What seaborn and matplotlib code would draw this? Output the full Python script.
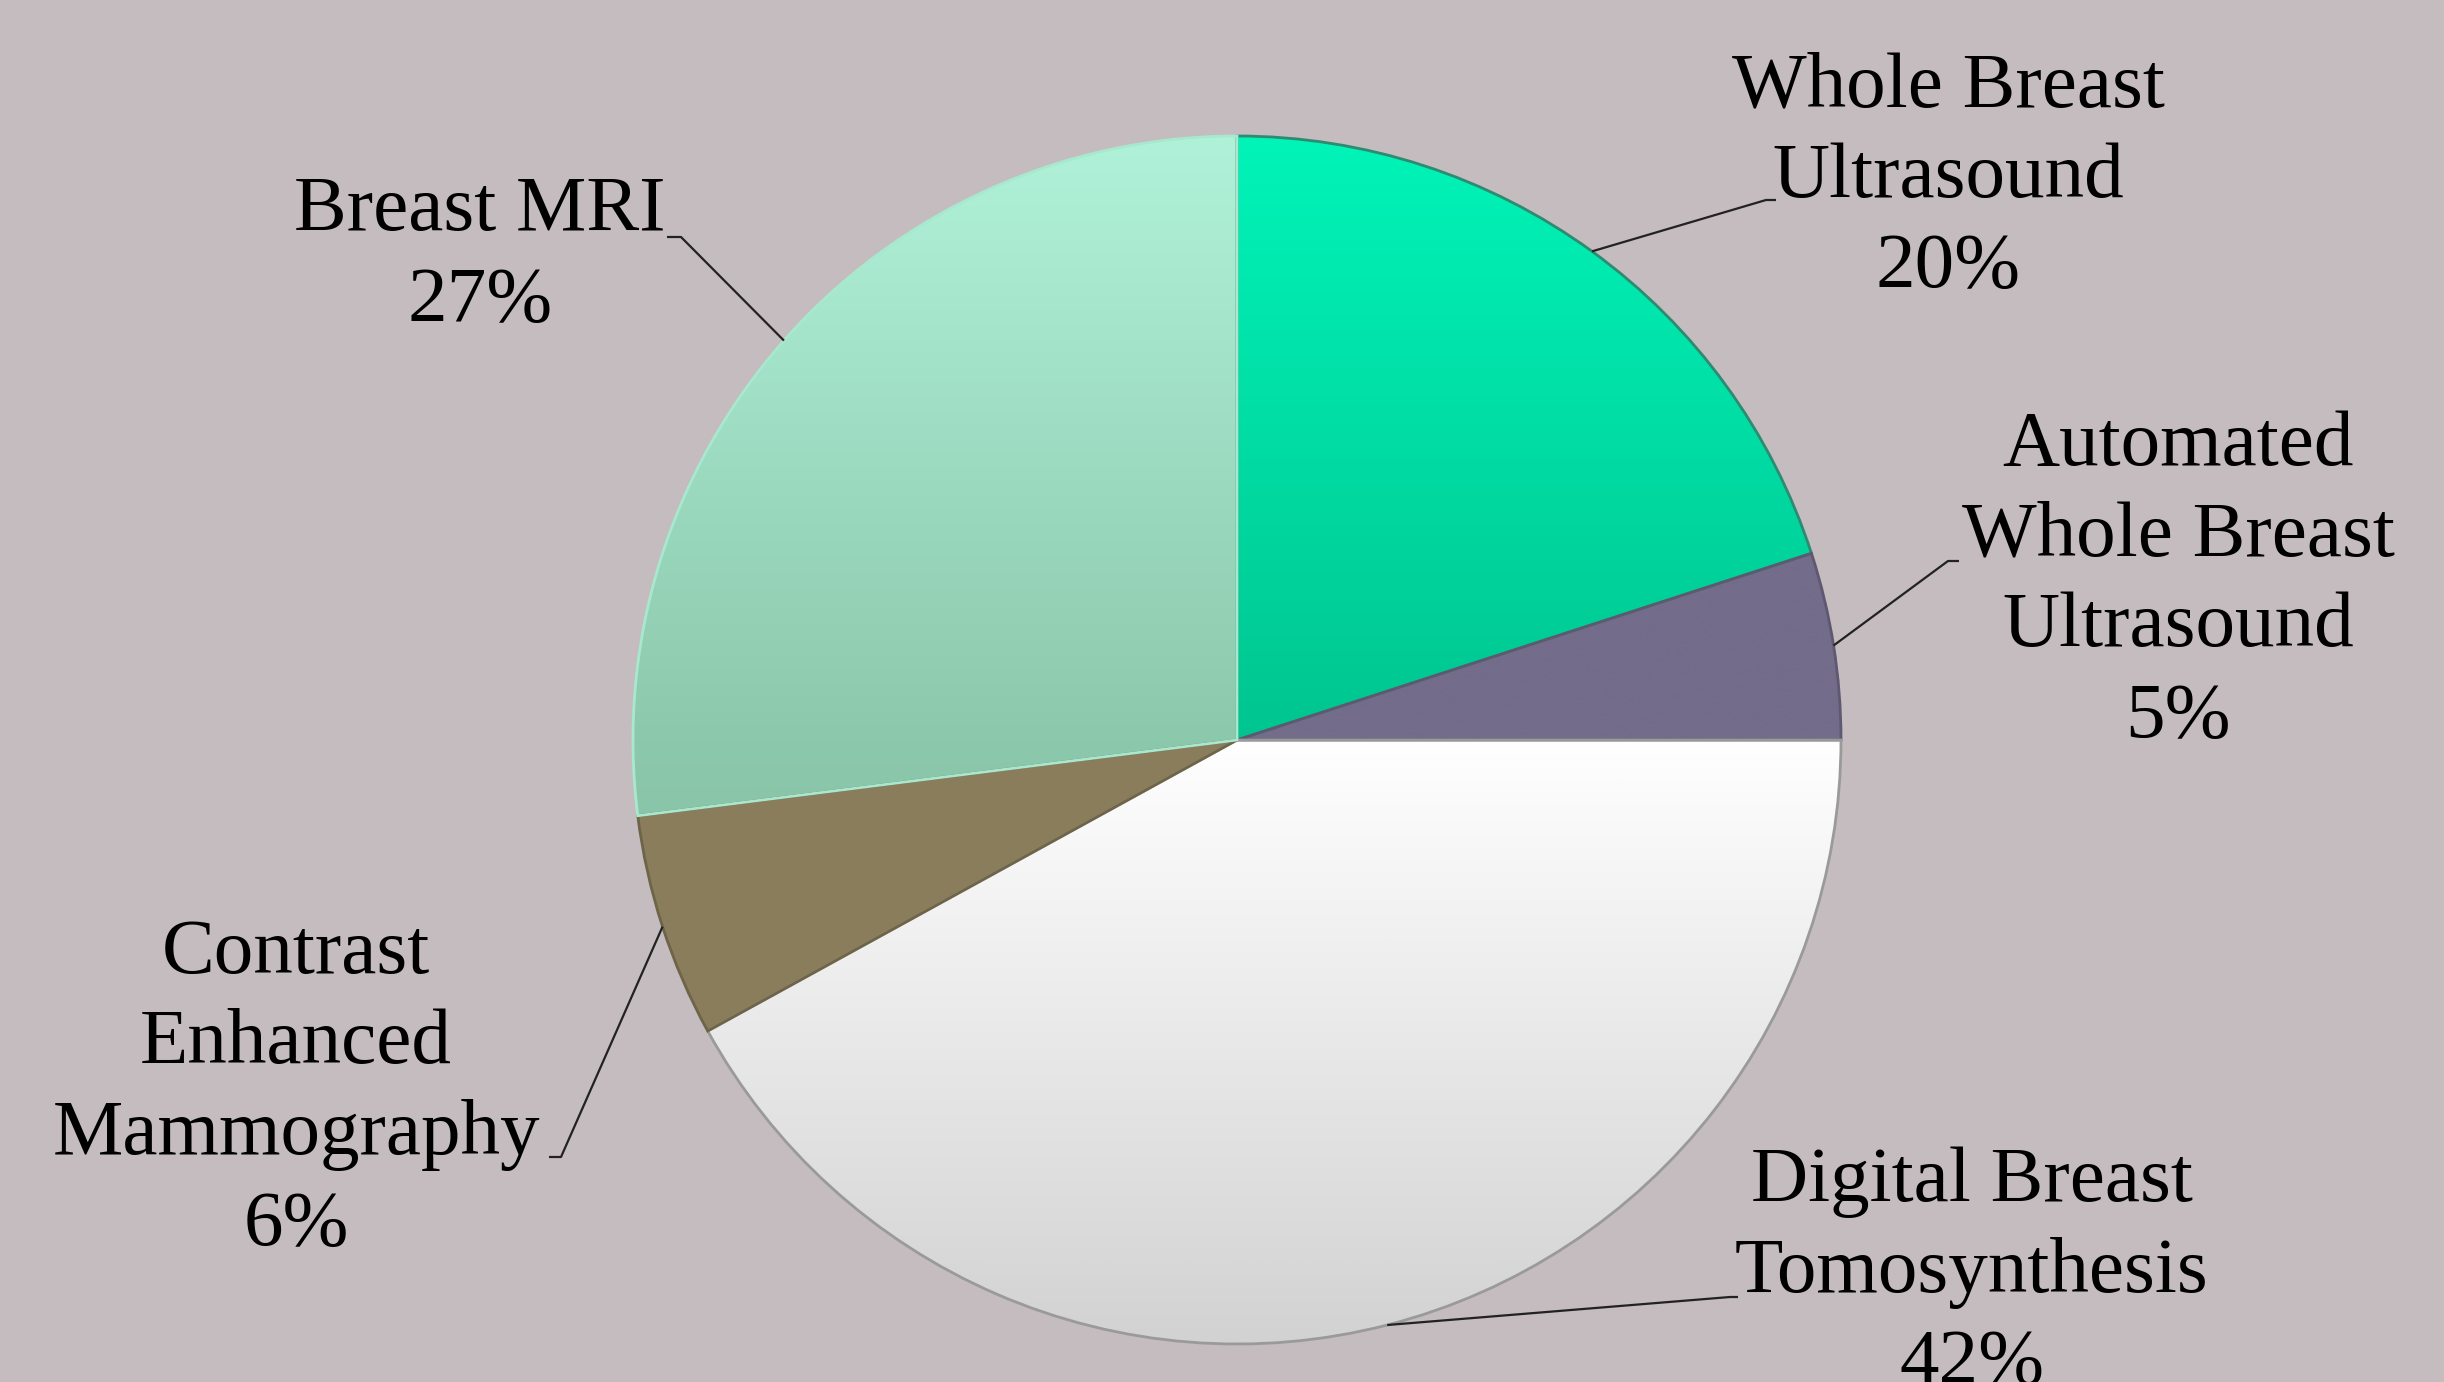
import numpy as np
import matplotlib
matplotlib.use("Agg")
import matplotlib.pyplot as plt
import seaborn as sns
from matplotlib.colors import LinearSegmentedColormap

# ---- data ----
categories = ["Whole Breast\nUltrasound", "Automated\nWhole Breast\nUltrasound",
              "Digital Breast\nTomosynthesis", "Contrast\nEnhanced\nMammography",
              "Breast MRI"]
percents = [20, 5, 42, 6, 27]

# ---- style ----
BG = "#C4BCBF"
sns.set_style("white")
plt.rcParams["font.family"] = ["Liberation Serif", "DejaVu Serif"]

W, H, DPI = 2444, 1382, 100
CX, CY, R = 1237, 740, 604  # pie centre / radius in pixels

fig = plt.figure(figsize=(W / DPI, H / DPI), dpi=DPI, facecolor=BG)
ax = fig.add_axes([0, 0, 1, 1])
ax.set_facecolor(BG)
ax.axis("off")


def px(x, y):
    """pixel (from top-left) -> data coordinates"""
    return (x - CX) / R, (CY - y) / R


# gradient stops (top of pie -> bottom of pie) for each slice
gradients = [
    [(0.0, "#00F4B8"), (0.5, "#00C590"), (1.0, "#00A67A")],   # WBUS
    [(0.0, "#736C8A"), (1.0, "#736C8A")],                     # ABUS
    [(0.0, "#FFFFFF"), (0.5, "#FFFFFF"), (1.0, "#D2D2D2")],   # DBT
    [(0.0, "#8A7D5C"), (1.0, "#8A7D5C")],                     # CEM
    [(0.0, "#B0F2D9"), (0.5, "#8CC8AC"), (1.0, "#78AE94")],   # MRI
]
edges = ["#2E8A70", "#5E5870", "#9A9A9A", "#6E6448", "#A8E8CF"]

wedges, _ = ax.pie(percents, startangle=90, counterclock=False, radius=1.0,
                   colors=[g[0][1] for g in gradients],
                   wedgeprops=dict(linewidth=2.0), center=(0, 0), frame=False)
ax.set_xlim(-CX / R, (W - CX) / R)
ax.set_ylim(-(H - CY) / R, CY / R)
ax.set_aspect("auto")

grad = np.linspace(0, 1, 512).reshape(-1, 1)
for w, g, ec in zip(wedges, gradients, edges):
    cmap = LinearSegmentedColormap.from_list("g", g)
    im = ax.imshow(grad, cmap=cmap, extent=(-1, 1, -1, 1), origin="upper",
                   aspect="auto", zorder=w.get_zorder() + 0.1, interpolation="bilinear")
    im.set_clip_path(w)
    w.set_edgecolor(ec)
    w.set_zorder(w.get_zorder() + 0.2)
    w.set_facecolor("none")

# ---- labels with leader lines ----
label_pos = [(1948, 178), (2178, 582), (1972, 1273), (296, 1090), (480, 257)]
leader_end = [[(1766, 200), (1776, 200)],
              [(1948, 561), (1959, 561)],
              [(1730, 1297), (1738, 1297)],
              [(561, 1157), (549, 1157)],
              [(681, 237), (667, 237)]]

for w, cat, p, lp, le in zip(wedges, categories, percents, label_pos, leader_end):
    mid = np.deg2rad((w.theta1 + w.theta2) / 2)
    sx, sy = np.cos(mid), np.sin(mid)
    pts = [(sx, sy)] + [px(*q) for q in le]
    xs, ys = zip(*pts)
    ax.plot(xs, ys, color="#222222", lw=1.6, zorder=5, solid_capstyle="butt")
    tx, ty = px(*lp)
    ax.text(tx, ty, f"{cat}\n{p}%", ha="center", va="center", fontsize=57,
            color="black", linespacing=1.35, zorder=6)

fig.savefig("out.png", dpi=DPI, facecolor=BG)
